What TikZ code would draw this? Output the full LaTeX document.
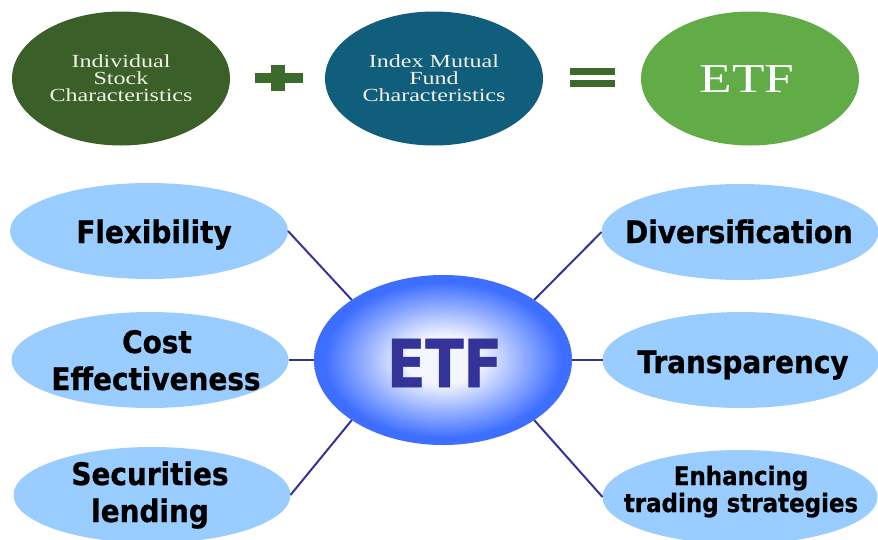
\documentclass[tikz,border=0pt]{standalone}
\usepackage{fontspec}
\usetikzlibrary{shapes.geometric}
\newfontfamily\lblfont[FakeStretch=0.9,FakeBold=0.8]{DejaVu Sans}
\newfontfamily\etffont[FakeStretch=0.85,FakeBold=1]{DejaVu Sans}
\newfontfamily\topfont[FakeStretch=1.3]{Liberation Serif}
\definecolor{gdark}{HTML}{3A5F28}
\definecolor{cteal}{HTML}{115E7C}
\definecolor{glight}{HTML}{62AC48}
\definecolor{signg}{HTML}{3C6A2A}
\definecolor{toptext}{HTML}{EEF0E6}
\definecolor{bubblec}{HTML}{99CCFF}
\definecolor{cnavy}{HTML}{333399}
\definecolor{etfin}{HTML}{F4F6FF}
\definecolor{etfout}{HTML}{3D6EFF}
\pgfdeclareradialshading{etfshade}{\pgfpoint{0bp}{0bp}}{color(0bp)=(etfin); color(7bp)=(etfin); color(23bp)=(etfout); color(50bp)=(etfout)}
\begin{document}
\begin{tikzpicture}[x=1pt,y=-1pt,
  topell/.style={ellipse, minimum width=218pt, minimum height=134pt, inner sep=0pt, outer sep=0pt},
  toptxt/.style={anchor=base, inner sep=0pt, text=toptext, font=\topfont\fontsize{18.5}{18}\selectfont},
  bubble/.style={ellipse, fill=bubblec, minimum width=277pt, minimum height=96pt, inner sep=0pt, outer sep=0pt},
  lbl/.style={anchor=base, inner sep=0pt, font=\lblfont\bfseries\fontsize{31}{37}\selectfont},
  lblsmall/.style={anchor=base, inner sep=0pt, font=\lblfont\bfseries\fontsize{25.5}{31}\selectfont},
  link/.style={draw=cnavy, line width=2pt}
]
\useasboundingbox (0,0) rectangle (878,539);

% top row
\node[topell, fill=gdark] (c1) at (121,78.5) {};
\node[topell, fill=cteal] (c2) at (434,78.5) {};
\node[topell, fill=glight] (c3) at (750,78.5) {};
\node[toptxt] (c1a) at (121,67) {Individual};
\node[toptxt] (c1b) at (121,84) {Stock};
\node[toptxt] (c1c) at (121,101) {Characteristics};
\node[toptxt] (c2a) at (434,67) {Index Mutual};
\node[toptxt] (c2b) at (434,84) {Fund};
\node[toptxt] (c2c) at (434,101) {Characteristics};
\node[anchor=base, inner sep=0pt, text=white, font=\topfont\fontsize{41}{41}\selectfont] (c3a) at (747,92) {ETF};
% plus and equals
\fill[signg] (255,73) rectangle (303,83);
\fill[signg] (271,65) rectangle (285,91);
\fill[signg] (570,68) rectangle (615,75);
\fill[signg] (570,80) rectangle (615,87);

% bubbles
\node[bubble, minimum width=278pt] (flex) at (149,231) {};
\node[bubble] (cost) at (150,360) {};
\node[bubble] (sec) at (152,495) {};
\node[bubble] (div) at (740,232) {};
\node[bubble] (trans) at (741,360) {};
\node[bubble, minimum width=275pt, minimum height=94pt] (enh) at (740,497) {};

\node[lbl] (flexL) at (154,243) {Flexibility};
\node[lbl] (costL1) at (157,353) {Cost};
\node[lbl] (costL2) at (156,390) {Effectiveness};
\node[lbl] (secL1) at (150,485) {Securities};
\node[lbl] (secL2) at (150,522) {lending};
\node[lbl] (divL) at (739,243) {Diversification};
\node[lbl] (transL) at (743,373) {Transparency};
\node[lblsmall] (enhL1) at (741,485) {Enhancing};
\node[lblsmall] (enhL2) at (741,512) {trading strategies};

% centre
\node[ellipse, minimum width=258pt, minimum height=170pt, inner sep=0pt, outer sep=0pt, shade, shading=etfshade] (etf) at (443,360) {};
\node[anchor=base, inner sep=0pt, text=cnavy, font=\etffont\bfseries\fontsize{66}{66}\selectfont] (etfL) at (444.5,387) {ETF};

% connectors
\draw[link] (flex.east) -- (etf.north west);
\draw[link] (cost.east) -- (etf.west);
\draw[link] (sec.east) -- (etf.south west);
\draw[link] (div.west) -- (etf.north east);
\draw[link] (trans.west) -- (etf.east);
\draw[link] (enh.west) -- (etf.south east);
\end{tikzpicture}
\end{document}
